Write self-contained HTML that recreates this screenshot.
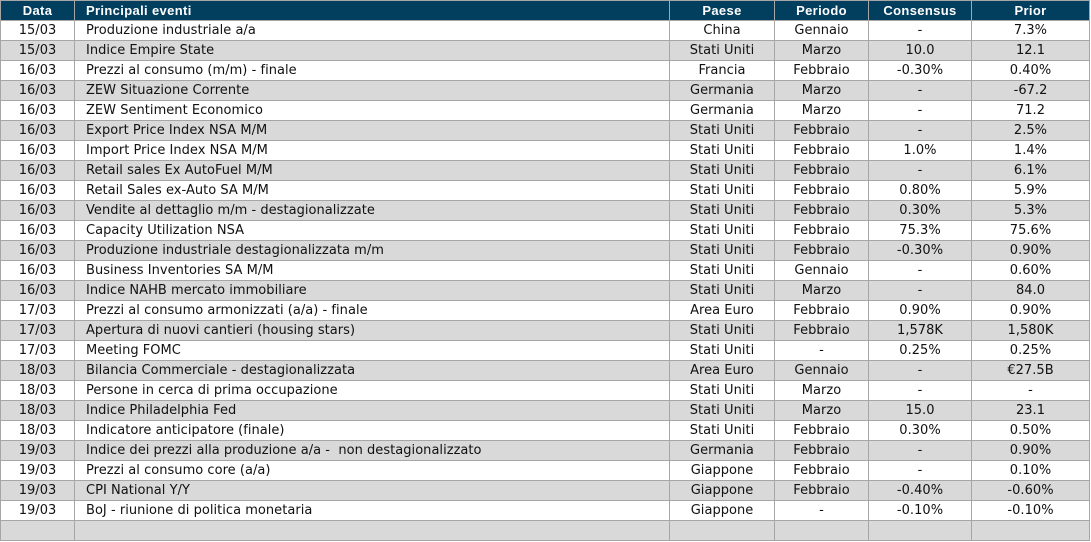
<!DOCTYPE html>
<html>
<head>
<meta charset="utf-8">
<style>
  html,body{margin:0;padding:0;background:#ffffff;}
  body{width:1091px;height:542px;overflow:hidden;position:relative;}
  .g{
    position:absolute;left:0;top:0;
    display:grid;
    grid-template-columns:73px 594px 104px 93px 102px 117px;
    grid-auto-rows:19px;
    gap:1px;
    padding:1px;
    background:#a6a6a6;
    width:1088px;
  }
  .g div{
    background:#ffffff;
    font-family:"DejaVu Sans","Liberation Sans",sans-serif;
    font-size:13px;
    letter-spacing:0.03px;
    line-height:19px;
    color:#111;
    text-align:center;
    white-space:pre;
    overflow:hidden;
  }
  .g div.l{text-align:left;padding-left:11px;}
  .g div.h{
    background:#023f5f;color:#ffffff;
    font-family:"Liberation Sans",sans-serif;font-weight:bold;
    font-size:13px;letter-spacing:0.35px;
  }
  .g div.s{background:#d9d9d9;}
</style>
</head>
<body>
<div class="g">
<div class="h">Data</div><div class="h l">Principali eventi</div><div class="h">Paese</div><div class="h">Periodo</div><div class="h">Consensus</div><div class="h">Prior</div>

<div>15/03</div><div class="l">Produzione industriale a/a</div><div>China</div><div>Gennaio</div><div>-</div><div>7.3%</div>

<div class="s">15/03</div><div class="s l">Indice Empire State</div><div class="s">Stati Uniti</div><div class="s">Marzo</div><div class="s">10.0</div><div class="s">12.1</div>

<div>16/03</div><div class="l">Prezzi al consumo (m/m) - finale</div><div>Francia</div><div>Febbraio</div><div>-0.30%</div><div>0.40%</div>

<div class="s">16/03</div><div class="s l">ZEW Situazione Corrente</div><div class="s">Germania</div><div class="s">Marzo</div><div class="s">-</div><div class="s">-67.2</div>

<div>16/03</div><div class="l">ZEW Sentiment Economico</div><div>Germania</div><div>Marzo</div><div>-</div><div>71.2</div>

<div class="s">16/03</div><div class="s l">Export Price Index NSA M/M</div><div class="s">Stati Uniti</div><div class="s">Febbraio</div><div class="s">-</div><div class="s">2.5%</div>

<div>16/03</div><div class="l">Import Price Index NSA M/M</div><div>Stati Uniti</div><div>Febbraio</div><div>1.0%</div><div>1.4%</div>

<div class="s">16/03</div><div class="s l">Retail sales Ex AutoFuel M/M</div><div class="s">Stati Uniti</div><div class="s">Febbraio</div><div class="s">-</div><div class="s">6.1%</div>

<div>16/03</div><div class="l">Retail Sales ex-Auto SA M/M</div><div>Stati Uniti</div><div>Febbraio</div><div>0.80%</div><div>5.9%</div>

<div class="s">16/03</div><div class="s l">Vendite al dettaglio m/m - destagionalizzate</div><div class="s">Stati Uniti</div><div class="s">Febbraio</div><div class="s">0.30%</div><div class="s">5.3%</div>

<div>16/03</div><div class="l">Capacity Utilization NSA</div><div>Stati Uniti</div><div>Febbraio</div><div>75.3%</div><div>75.6%</div>

<div class="s">16/03</div><div class="s l">Produzione industriale destagionalizzata m/m</div><div class="s">Stati Uniti</div><div class="s">Febbraio</div><div class="s">-0.30%</div><div class="s">0.90%</div>

<div>16/03</div><div class="l">Business Inventories SA M/M</div><div>Stati Uniti</div><div>Gennaio</div><div>-</div><div>0.60%</div>

<div class="s">16/03</div><div class="s l">Indice NAHB mercato immobiliare</div><div class="s">Stati Uniti</div><div class="s">Marzo</div><div class="s">-</div><div class="s">84.0</div>

<div>17/03</div><div class="l">Prezzi al consumo armonizzati (a/a) - finale</div><div>Area Euro</div><div>Febbraio</div><div>0.90%</div><div>0.90%</div>

<div class="s">17/03</div><div class="s l">Apertura di nuovi cantieri (housing stars)</div><div class="s">Stati Uniti</div><div class="s">Febbraio</div><div class="s">1,578K</div><div class="s">1,580K</div>

<div>17/03</div><div class="l">Meeting FOMC</div><div>Stati Uniti</div><div>-</div><div>0.25%</div><div>0.25%</div>

<div class="s">18/03</div><div class="s l">Bilancia Commerciale - destagionalizzata</div><div class="s">Area Euro</div><div class="s">Gennaio</div><div class="s">-</div><div class="s">€27.5B</div>

<div>18/03</div><div class="l">Persone in cerca di prima occupazione</div><div>Stati Uniti</div><div>Marzo</div><div>-</div><div>-</div>

<div class="s">18/03</div><div class="s l">Indice Philadelphia Fed</div><div class="s">Stati Uniti</div><div class="s">Marzo</div><div class="s">15.0</div><div class="s">23.1</div>

<div>18/03</div><div class="l">Indicatore anticipatore (finale)</div><div>Stati Uniti</div><div>Febbraio</div><div>0.30%</div><div>0.50%</div>

<div class="s">19/03</div><div class="s l">Indice dei prezzi alla produzione a/a -  non destagionalizzato</div><div class="s">Germania</div><div class="s">Febbraio</div><div class="s">-</div><div class="s">0.90%</div>

<div>19/03</div><div class="l">Prezzi al consumo core (a/a)</div><div>Giappone</div><div>Febbraio</div><div>-</div><div>0.10%</div>

<div class="s">19/03</div><div class="s l">CPI National Y/Y</div><div class="s">Giappone</div><div class="s">Febbraio</div><div class="s">-0.40%</div><div class="s">-0.60%</div>

<div>19/03</div><div class="l">BoJ - riunione di politica monetaria</div><div>Giappone</div><div>-</div><div>-0.10%</div><div>-0.10%</div>

<div class="s"></div><div class="s l"></div><div class="s"></div><div class="s"></div><div class="s"></div><div class="s"></div>
</div>
</body>
</html>
